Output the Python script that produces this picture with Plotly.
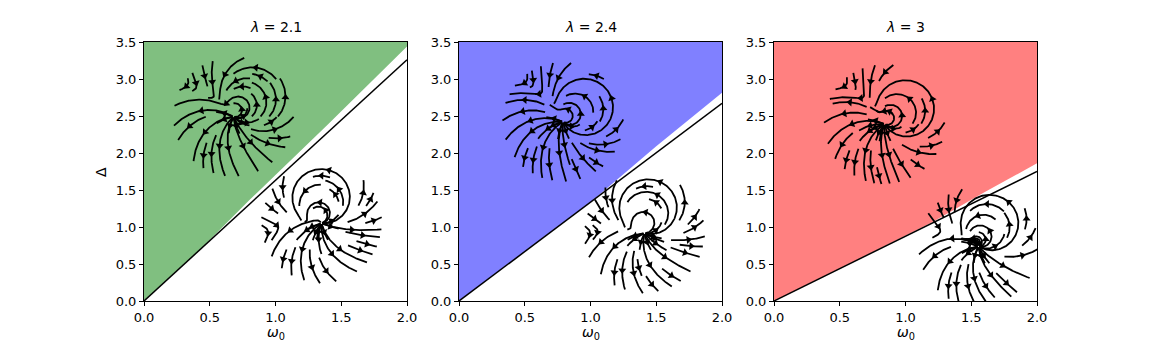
import numpy as np
import plotly.graph_objects as go

# ---- values ----
lam_labels = ["2.1", "2.4", "3"]
fill_colors = ["#80bf80", "#8080ff", "#ff8080"]

# black boundary line: value of Delta at omega0 = 2 (line starts at origin)
line_end = [3.26, 2.67, 1.75]

# upper edge of the shaded region
edge_x = [[0.0, 0.45, 0.8, 1.4, 2.0],
          [0.0, 1.0, 1.5, 2.0],
          [0.0, 1.2, 1.6, 2.0]]
edge_y = [[0.0, 0.735, 1.36, 2.39, 3.44],
          [0.0, 1.336, 2.09, 2.815],
          [0.0, 1.06, 1.47, 1.86]]

# fixed points (omega0, Delta)
upper_pts = [(0.68, 2.49), (0.79, 2.42), (0.84, 2.39)]
lower_pts = [(1.35, 1.05), (1.41, 0.915), (1.555, 0.735)]

# side (deg) on which the streamlines loop back, per fixed point
upper_loop = [37, 25, 27]
lower_loop = [81, 72, 55]

RX, RY = 0.46, 0.81   # radius of the streamline patch in data units

# ---- layout geometry ----
W, H = 1152, 345
xdom = [(144, 407), (459, 722), (774, 1037)]
ytop, ybot = 42, 301


def field(w, psi, eps=0.15, k=5.0, rot=0.12):
    r = abs(w)
    th = np.angle(w)
    g = 1.0 / (1.0 + np.exp(-k * np.cos(th - psi)))
    a = np.exp(1j * (np.pi / 2 - psi))
    return eps * w + g * a * w * w + 1j * rot * w * r


def streamlines(psi, n=14, h=0.012, n_rays=20):
    mask = np.zeros((n, n), bool)

    def cell(w):
        i = int((w.real + 1) / 2 * n)
        j = int((w.imag + 1) / 2 * n)
        return min(max(i, 0), n - 1), min(max(j, 0), n - 1)

    def run(w0, sign, own, free=0.15):
        pts = [w0]
        w = w0
        last = cell(w0)
        length = 0.0
        while length < 2.6:
            v = field(w, psi)
            if abs(v) < 1e-9:
                break
            k1 = sign * v / abs(v)
            v2 = field(w + 0.5 * h * k1, psi)
            if abs(v2) < 1e-9:
                break
            w = w + h * sign * v2 / abs(v2)
            if abs(w) > 1.0 or abs(w) < 0.01:
                break
            if length > 0.4 and abs(w) < 0.05:
                break
            cl = cell(w)
            if cl != last and abs(w) > free:
                if mask[cl] and cl not in own:
                    break
                own.add(cl)
            last = cl
            pts.append(w)
            length += h
        return pts, length

    lines = []
    # rays leaving the fixed point, starting on the side away from the loops
    for t in psi + np.pi + np.arange(n_rays) * 2 * np.pi / n_rays + 0.1:
        own = set()
        pts, _ = run(0.02 * np.exp(1j * t), 1, own, free=0.22)
        if max(abs(p) for p in pts) < 0.3:
            continue
        for cl in own:
            mask[cl] = True
        lines.append(pts)

    # fill the gaps: seeds spiral from the outside in
    order = []
    lo, hi = 0, n - 1
    while lo <= hi:
        for i in range(lo, hi + 1):
            order.append((i, lo))
        for j in range(lo + 1, hi + 1):
            order.append((hi, j))
        for i in range(hi - 1, lo - 1, -1):
            order.append((i, hi))
        for j in range(hi - 1, lo, -1):
            order.append((lo, j))
        lo += 1
        hi -= 1

    for (i, j) in order:
        if mask[i, j]:
            continue
        w0 = complex((i + 0.5) / n * 2 - 1, (j + 0.5) / n * 2 - 1)
        if abs(w0) > 0.95:
            continue
        own = {(i, j)}
        fwd, lf = run(w0, 1, own)
        bwd, lb = run(w0, -1, own)
        if lf + lb < 0.25:
            continue
        for cl in own:
            mask[cl] = True
        lines.append(bwd[::-1] + fwd[1:])
    return lines


fig = go.Figure()

for k in range(3):
    xa = "x" if k == 0 else "x%d" % (k + 1)
    ya = "y" if k == 0 else "y%d" % (k + 1)

    # shaded region
    fx = edge_x[k] + [2.0, 0.0]
    fy = edge_y[k] + [3.5, 3.5]
    fig.add_trace(go.Scatter(x=fx, y=fy, fill="toself", fillcolor=fill_colors[k],
                             mode="none", xaxis=xa, yaxis=ya, showlegend=False,
                             hoverinfo="skip"))

    # streamlines around both fixed points
    lx, ly, ax_, ay_, ang = [], [], [], [], []
    for (px, py), psi in [(upper_pts[k], upper_loop[k]), (lower_pts[k], lower_loop[k])]:
        for ln in streamlines(np.radians(psi)):
            arr = np.array(ln)
            if len(arr) < 3:
                continue
            lx += list(px + arr.real * RX) + [None]
            ly += list(py + arr.imag * RY) + [None]
            m = len(arr) // 2
            if abs(arr[m]) < 0.15:
                continue
            d = arr[m + 1] - arr[m - 1]
            ax_.append(px + arr[m].real * RX)
            ay_.append(py + arr[m].imag * RY)
            ang.append(np.degrees(np.arctan2(d.real, d.imag)))
    fig.add_trace(go.Scatter(x=lx, y=ly, mode="lines", line=dict(color="black", width=1.8),
                             xaxis=xa, yaxis=ya, showlegend=False, hoverinfo="skip"))
    fig.add_trace(go.Scatter(x=ax_, y=ay_, mode="markers",
                             marker=dict(symbol="triangle-up", size=7, color="black",
                                         angle=ang),
                             xaxis=xa, yaxis=ya, showlegend=False, hoverinfo="skip"))

    # boundary line
    fig.add_trace(go.Scatter(x=[0, 2], y=[0, line_end[k]], mode="lines",
                             line=dict(color="black", width=1.5),
                             xaxis=xa, yaxis=ya, showlegend=False, hoverinfo="skip"))

    axis_common = dict(showline=True, linecolor="black", linewidth=1, mirror=True,
                       ticks="outside", ticklen=4, tickcolor="black", showgrid=False,
                       zeroline=False, automargin=False,
                       tickfont=dict(size=13, color="black"))
    x0, x1 = xdom[k]
    fig.layout[("xaxis" if k == 0 else "xaxis%d" % (k + 1))] = dict(
        domain=[x0 / W, x1 / W], range=[0, 2], anchor=ya,
        tickvals=[0, 0.5, 1, 1.5, 2], ticktext=["0.0", "0.5", "1.0", "1.5", "2.0"],
        **axis_common)
    fig.layout[("yaxis" if k == 0 else "yaxis%d" % (k + 1))] = dict(
        domain=[(H - ybot) / H, (H - ytop) / H], range=[0, 3.5], anchor=xa,
        tickvals=[0, 0.5, 1, 1.5, 2, 2.5, 3, 3.5],
        ticktext=["0.0", "0.5", "1.0", "1.5", "2.0", "2.5", "3.0", "3.5"],
        **axis_common)

    cx = (x0 + x1) / 2 / W
    fig.add_annotation(text="<i>λ</i> = " + lam_labels[k], xref="paper", yref="paper",
                       x=cx, y=(H - ytop + 5) / H, xanchor="center", yanchor="bottom",
                       showarrow=False, font=dict(size=14, color="black"))
    fig.add_annotation(text="<i>ω</i><sub>0</sub>", xref="paper", yref="paper",
                       x=cx, y=(H - 333) / H, xanchor="center", yanchor="middle",
                       showarrow=False, font=dict(size=14, color="black"))

fig.add_annotation(text="Δ", xref="paper", yref="paper", x=101 / W, y=(H - 172) / H,
                   xanchor="center", yanchor="middle", textangle=-90, showarrow=False,
                   font=dict(size=14, color="black"))

fig.update_layout(width=W, height=H, margin=dict(l=0, r=0, t=0, b=0),
                  plot_bgcolor="white", paper_bgcolor="white",
                  font=dict(family="DejaVu Sans", color="black"))

# page body has a default margin; remove it so the figure sits at the window corner
fig.write_html("out.html", config={"displayModeBar": False},
               post_script="document.body.style.margin='0px';")
